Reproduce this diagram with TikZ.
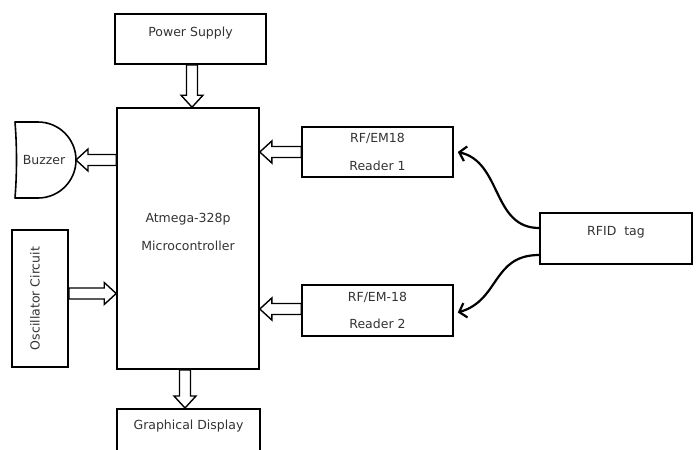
\documentclass[tikz,border=0pt]{standalone}
\usepackage{fontspec}
\setmainfont{DejaVu Sans}
\usetikzlibrary{calc,arrows.meta}
\tikzset{
  box/.style={draw=black, line width=1.6pt, rectangle, inner sep=0pt, text=black!80,
    font=\fontsize{12.5}{27.5}\selectfont, align=center},
  lbl/.style={text=black!80, font=\fontsize{12.5}{14}\selectfont, inner sep=0pt},
  blockarrow/.style={draw=black, line width=1.4pt, fill=white, line join=miter,
    to path={let \p1=(\tikztostart), \p2=(\tikztotarget),
      \n1={atan2(\y2-\y1,\x2-\x1)}, \n2={veclen(\x2-\x1,\y2-\y1)} in
      ($(\p1)+(\n1+90:5.5pt)$)
      -- ($(\p1)+(\n1:{\n2-12pt})+(\n1+90:5.5pt)$)
      -- ($(\p1)+(\n1:{\n2-12pt})+(\n1+90:11pt)$)
      -- (\p2)
      -- ($(\p1)+(\n1:{\n2-12pt})+(\n1-90:11pt)$)
      -- ($(\p1)+(\n1:{\n2-12pt})+(\n1-90:5.5pt)$)
      -- ($(\p1)+(\n1-90:5.5pt)$) -- cycle}},
  curvearrow/.style={draw=black, line width=2.2pt,
    -{Straight Barb[length=6.5pt,width=15pt,line width=2.2pt]}}
}
\begin{document}
\begin{tikzpicture}[x=1pt,y=-1pt]
\useasboundingbox (0,0) rectangle (697,450);
\fill[white] (0,0) rectangle (697,450);
\clip (0,0) rectangle (697,450);

% boxes
\node[box, minimum width=151pt, minimum height=50pt, text depth=14pt] (ps) at (190.5,39) {Power Supply};
\node[box, minimum width=142pt, minimum height=261pt, text depth=13pt] (mc) at (188,238.5) {Atmega-328p\\Microcontroller};
\node[box, minimum width=143pt, anchor=north, inner ysep=12pt, text height=9pt, text depth=40pt] (gd) at (188.5,408) {Graphical Display};
\node[box, minimum width=56pt, minimum height=137pt] (osc) at (40,298.5) {};
\node[lbl, rotate=90] (osct) at (35,298.5) {Oscillator Circuit};
\node[box, minimum width=151pt, minimum height=50pt] (r1) at (377.5,152) {RF/EM18\\Reader 1};
\node[box, minimum width=151pt, minimum height=51pt] (r2) at (377.5,310.5) {RF/EM-18\\Reader 2};
\node[box, minimum width=152pt, minimum height=51pt, text depth=15pt] (tag) at (616,238.5) {RFID~~tag};

% buzzer
\draw[line width=1.6pt, line join=round] (15,122) -- (38,122)
  .. controls (59,122) and (76,139) .. (76,160)
  .. controls (76,181) and (59,198) .. (38,198) -- (15,198)
  .. controls (17,173) and (17,147) .. cycle;
\node[lbl] (buz) at (44,160) {Buzzer};
\coordinate (buztip) at (76,160);

% block arrows
\draw[blockarrow] ([xshift=1.5pt]ps.south) to ([xshift=1.5pt]ps.south |- mc.north);
\draw[blockarrow] ([xshift=-3pt]mc.south) to ([xshift=-3pt]mc.south |- gd.north);
\draw[blockarrow] (mc.west |- buztip) to (buztip);
\draw[blockarrow] ([yshift=5pt]osc.east) to ([yshift=5pt]osc.east -| mc.west);
\draw[blockarrow] (r1.west) to (r1.west -| mc.east);
\draw[blockarrow] ([yshift=1.5pt]r2.west) to ([yshift=1.5pt]r2.west -| mc.east);

% curved arrows
\coordinate (t1) at ([xshift=4pt]r1.east);
\coordinate (t2) at ([xshift=4pt,yshift=-2pt]r2.east);
\draw[curvearrow] ([yshift=10.5pt]tag.west) .. controls (492,228) and (502,162) .. (t1);
\draw[curvearrow] ([yshift=-16.5pt]tag.west) .. controls (492,255) and (500,300) .. (t2);
\end{tikzpicture}
\end{document}
